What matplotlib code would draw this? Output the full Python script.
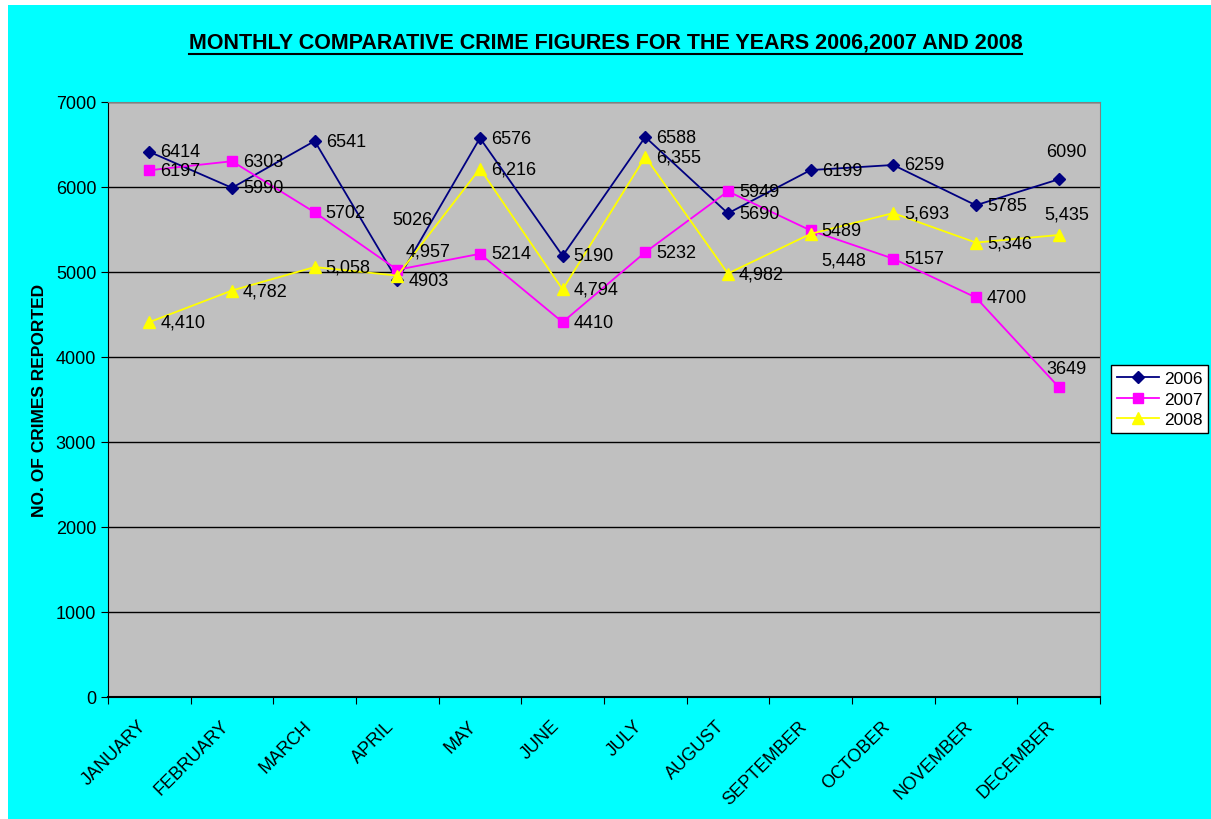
import numpy as np
import matplotlib.pyplot as plt
from matplotlib.lines import Line2D
from matplotlib.patches import Rectangle

plt.rcParams['font.family'] = ['Liberation Sans', 'DejaVu Sans']

months = ["JANUARY", "FEBRUARY", "MARCH", "APRIL", "MAY", "JUNE", "JULY",
          "AUGUST", "SEPTEMBER", "OCTOBER", "NOVEMBER", "DECEMBER"]
y2006 = [6414, 5990, 6541, 4903, 6576, 5190, 6588, 5690, 6199, 6259, 5785, 6090]
y2007 = [6197, 6303, 5702, 5026, 5214, 4410, 5232, 5949, 5489, 5157, 4700, 3649]
y2008 = [4410, 4782, 5058, 4957, 6216, 4794, 6355, 4982, 5448, 5693, 5346, 5435]

# label placement tweaks (offset points), default is right of the point
special = {
    ("2006", 11): (6, 20, "center"),
    ("2007", 3): (11, 36, "center"),
    ("2007", 11): (6, 13, "center"),
    ("2008", 3): (6, 18, "left"),
    ("2008", 8): (8, -19, "left"),
    ("2008", 11): (6, 15, "center"),
}

fig = plt.figure(figsize=(12.11, 8.2), dpi=100)
fig.patch.set_facecolor("white")
fig.add_artist(Rectangle((8 / 1211, 0), 1, 1 - 6 / 820, transform=fig.transFigure,
                         facecolor="#00FFFF", edgecolor="none", zorder=-10))
ax = fig.add_axes([0.0892, 0.1488, 0.819, 0.7256])
ax.set_facecolor("#C0C0C0")

x = np.arange(len(months))
series = [("2006", y2006, "#000080", "D", 6),
          ("2007", y2007, "#FF00FF", "s", 7),
          ("2008", y2008, "#FFFF00", "^", 8)]

for name, vals, col, mk, ms in series:
    ax.plot(x, vals, color=col, marker=mk, markersize=ms, linewidth=1.3,
            label=name, zorder=3)
    for i, v in enumerate(vals):
        txt = str(v) if name != "2008" else "{:,}".format(v)
        dx, dy, ha = special.get((name, i), (8, 0, "left"))
        ax.annotate(txt, (i, v), xytext=(dx, dy), textcoords="offset points",
                    ha=ha, va="center", fontsize=13, color="black", zorder=4)

ax.set_xlim(-0.5, 11.5)
ax.set_ylim(0, 7000)
ax.set_yticks(np.arange(0, 7001, 1000))
ax.yaxis.grid(True, color="black", linewidth=1)
ax.set_axisbelow(True)
ax.set_xticks(np.arange(-0.5, 12, 1))
ax.set_xticklabels([])
ax.set_xticks(x, minor=True)
ax.set_xticklabels(months, minor=True, rotation=45, ha="right", va="bottom",
                   rotation_mode="anchor", fontsize=13)
ax.tick_params(axis="x", which="minor", length=0, pad=23)
ax.tick_params(axis="x", which="major", length=5, direction="out")
ax.tick_params(axis="y", labelsize=13, length=5, direction="out")
for s in ["top", "right"]:
    ax.spines[s].set_color("#808080")
ax.spines["left"].set_color("black")
ax.spines["bottom"].set_color("black")
ax.spines["bottom"].set_linewidth(1.5)

ax.set_ylabel("NO. OF CRIMES REPORTED", fontsize=12.5, fontweight="bold",
              labelpad=6)

leg = fig.legend(loc="center", bbox_to_anchor=(0.9575, 0.512), fontsize=12.5,
                 frameon=True, fancybox=False, edgecolor="black", framealpha=1,
                 handlelength=2.4, borderpad=0.35, labelspacing=0.3,
                 handletextpad=0.3, borderaxespad=0)
leg.get_frame().set_facecolor("white")
leg.get_frame().set_linewidth(1)

title = fig.text(0.5, 0.947, "MONTHLY COMPARATIVE CRIME FIGURES FOR THE YEARS 2006,2007 AND 2008",
                 ha="center", va="center", fontsize=15.5, fontweight="bold")

# underline the title
fig.canvas.draw()
bb = title.get_window_extent().transformed(fig.transFigure.inverted())
fig.add_artist(Line2D([bb.x0, bb.x1], [bb.y0 - 0.001, bb.y0 - 0.001],
                      transform=fig.transFigure, color="black", linewidth=1.5))

fig.savefig("out.png", dpi=100, facecolor=fig.get_facecolor())
